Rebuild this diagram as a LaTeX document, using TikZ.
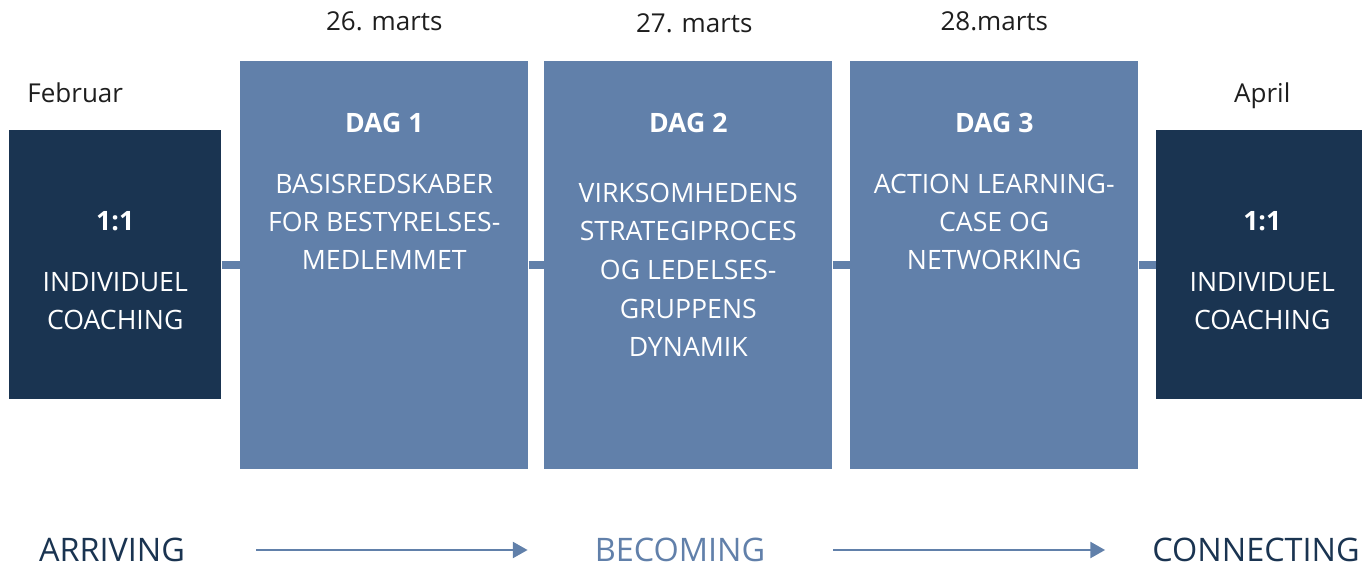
\documentclass[tikz,border=0pt]{standalone}
\usepackage{fontspec}
\setmainfont{Open Sans}
\usetikzlibrary{positioning,arrows.meta}

\definecolor{daylight}{HTML}{6180AA}
\definecolor{coachdark}{HTML}{1A3451}
\definecolor{datetxt}{HTML}{1E1E1E}

\begin{document}
\begin{tikzpicture}[x=0.75pt,y=-0.75pt,
  daybox/.style={fill=daylight,minimum width=216pt,minimum height=306pt,inner sep=0,anchor=north west},
  coachbox/.style={fill=coachdark,minimum width=159pt,minimum height=201.75pt,inner sep=0,anchor=north west},
  intxt/.style={text=white,align=center,inner sep=0,anchor=north,font=\fontsize{20}{28.5}\selectfont},
  datelbl/.style={text=datetxt,inner sep=0,text depth=0pt,font=\fontsize{19.5}{28.5}\selectfont},
  phase/.style={inner sep=0,font=\fontsize{24.3}{30}\selectfont},
  joinbar/.style={draw=daylight,line width=6pt},
  flow/.style={draw=daylight,line width=1.5pt,-{Triangle[length=11pt,width=12pt]}}]
\useasboundingbox (0,0) rectangle (1362,566);

% boxes
\node[coachbox] (feb) at (9,130) {};
\node[daybox] (d1) at (240,61) {};
\node[daybox] (d2) at (544,61) {};
\node[daybox] (d3) at (850,61) {};
\node[coachbox] (apr) at (1156,130) {};

% connecting bars
\draw[joinbar] (feb.east) -- (feb.east -| d1.west);
\draw[joinbar] (d1.east) -- (d1.east -| d2.west);
\draw[joinbar] (d2.east) -- (d2.east -| d3.west);
\draw[joinbar] (d3.east) -- (d3.east -| apr.west);

% dates
\node[datelbl, above=20.25pt of feb.north, xshift=-30pt] (febdate) {Februar};
\node[datelbl, above=22.5pt of d1.north] (d1date) {26. marts};
\node[datelbl, above=21pt of d2.north, xshift=4.5pt] (d2date) {27. marts};
\node[datelbl, above=22.5pt of d3.north] (d3date) {28.marts};
\node[datelbl, above=20.25pt of apr.north] (aprdate) {April};

% text in the boxes
\node[intxt, below=61pt of feb.north] (febtitle) {\bfseries 1:1};
\node[intxt, below=30.75pt of febtitle] (febbody) {INDIVIDUEL\\COACHING};
\node[intxt, below=39pt of d1.north] (d1title) {\bfseries DAG 1};
\node[intxt, below=30.5pt of d1title] (d1body) {BASISREDSKABER\\FOR BESTYRELSES-\\MEDLEMMET};
\node[intxt, below=39pt of d2.north] (d2title) {\bfseries DAG 2};
\node[intxt, below=37pt of d2title, font=\fontsize{20}{29}\selectfont] (d2body) {VIRKSOMHEDENS\\STRATEGIPROCES\\OG LEDELSES-\\GRUPPENS\\DYNAMIK};
\node[intxt, below=39pt of d3.north] (d3title) {\bfseries DAG 3};
\node[intxt, below=30.5pt of d3title] (d3body) {ACTION LEARNING-\\CASE OG\\NETWORKING};
\node[intxt, below=61pt of apr.north] (aprtitle) {\bfseries 1:1};
\node[intxt, below=30.75pt of aprtitle] (aprbody) {INDIVIDUEL\\COACHING};

% phases
\node[phase, text=coachdark] (arriving) at (112,550) {ARRIVING};
\node[phase, text=daylight] (becoming) at (680,550) {BECOMING};
\node[phase, text=coachdark] (connecting) at (1256,550) {CONNECTING};
\draw[flow, shorten <=53.25pt, shorten >=50.25pt] (arriving) -- (becoming);
\draw[flow, shorten <=51pt, shorten >=35.25pt] (becoming) -- (connecting);
\end{tikzpicture}
\end{document}
